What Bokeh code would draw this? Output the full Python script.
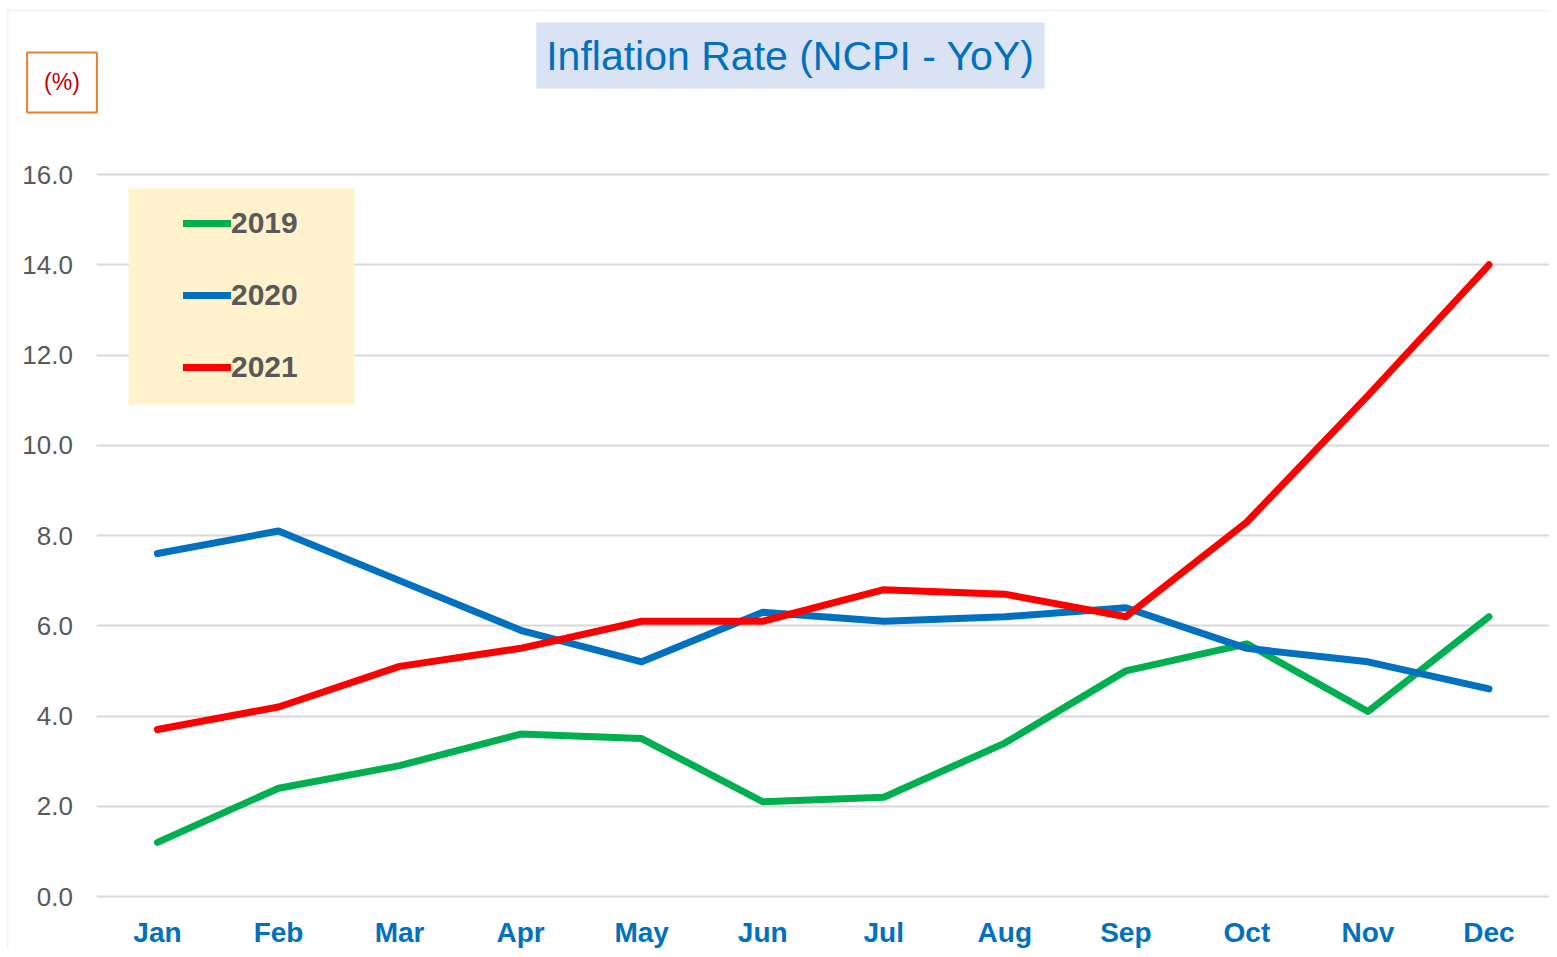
from bokeh.plotting import figure
from bokeh.models import (Range1d, FixedTicker, NumeralTickFormatter, LinearAxis, Grid,
                          Legend, LegendItem, Label, BoxAnnotation)
from bokeh.embed import file_html
from bokeh.resources import INLINE

months = ["Jan", "Feb", "Mar", "Apr", "May", "Jun", "Jul", "Aug", "Sep", "Oct", "Nov", "Dec"]
y2019 = [1.2, 2.4, 2.9, 3.6, 3.5, 2.1, 2.2, 3.4, 5.0, 5.6, 4.1, 6.2]
y2020 = [7.6, 8.1, 7.0, 5.9, 5.2, 6.3, 6.1, 6.2, 6.4, 5.5, 5.2, 4.6]
y2021 = [3.7, 4.2, 5.1, 5.5, 6.1, 6.1, 6.8, 6.7, 6.2, 8.3, 11.1, 14.0]
y_ticks = [0, 2, 4, 6, 8, 10, 12, 14, 16]

x_idx = list(range(len(months)))

p = figure(width=1549, height=949, x_range=Range1d(-1.297, 11.5), y_range=Range1d(-1.1745, 19.856),
           x_axis_location=None, y_axis_location=None,
           output_backend="svg", toolbar_location=None,
           min_border_left=0, min_border_right=0, min_border_top=0, min_border_bottom=0)
p.outline_line_color = None
p.background_fill_color = "white"
p.border_fill_color = "white"
p.center = []

yticker = FixedTicker(ticks=y_ticks)
xticker = FixedTicker(ticks=x_idx)

grid = Grid(dimension=1, ticker=yticker, cross_bounds=(-0.5, 11.5),
            grid_line_color="#d9d9d9", grid_line_width=2)
p.add_layout(grid)

yaxis = LinearAxis(ticker=yticker, formatter=NumeralTickFormatter(format="0.0"),
                   fixed_location=-0.5,
                   axis_line_color=None, major_tick_line_color=None, minor_tick_line_color=None,
                   major_tick_in=0, major_tick_out=0,
                   major_label_text_font="Liberation Sans", major_label_text_font_size="26px",
                   major_label_text_color="#595959", major_label_standoff=24)
p.add_layout(yaxis, "left")

xaxis = LinearAxis(ticker=xticker, fixed_location=0,
                   major_label_overrides={i: m for i, m in zip(x_idx, months)},
                   axis_line_color=None, major_tick_line_color=None, minor_tick_line_color=None,
                   major_tick_in=0, major_tick_out=0,
                   major_label_text_font="Liberation Sans", major_label_text_font_size="28px",
                   major_label_text_font_style="bold", major_label_text_color="#0070c0",
                   major_label_standoff=20)
p.add_layout(xaxis, "below")

# outer chart frame
p.add_layout(BoxAnnotation(left=-1.239, right=12, top=19.634, bottom=-3,
                           fill_alpha=0, line_color="#d9d9d9", line_width=2))

# legend background box
p.add_layout(BoxAnnotation(left=-0.2396, right=1.627, top=15.69, bottom=10.90,
                           fill_color="#fff2cc", fill_alpha=1, line_color=None))

series = [("2019", y2019, "#00b050"), ("2020", y2020, "#0070c0"), ("2021", y2021, "#ff0000")]
items = []
for name, vals, col in series:
    r = p.line(x_idx, vals, line_color=col, line_width=7, line_cap="round", line_join="round")
    items.append(LegendItem(label=name, renderers=[r]))

legend = Legend(items=items, location=(183, 562), padding=0, margin=0,
                background_fill_alpha=0, border_line_color=None,
                glyph_width=48, glyph_height=40, label_height=40, spacing=32,
                label_standoff=0, label_text_font="Liberation Sans",
                label_text_font_size="30px", label_text_font_style="bold",
                label_text_color="#595959")
p.add_layout(legend)

title = Label(x=5.229, y=18.637, text="Inflation Rate (NCPI - YoY)",
              text_align="center", text_baseline="middle",
              text_font="Liberation Sans", text_font_size="41px", text_color="#0070c0",
              background_fill_color="#dae3f3", padding=10)
p.add_layout(title)

unit = Label(x=-0.789, y=18.04, text="(%)", text_align="center", text_baseline="middle",
             text_font="Liberation Sans", text_font_size="23px", text_color="#c00000",
             border_line_color="#ed7d31", border_line_width=2, padding=17)
p.add_layout(unit)

open("out.html", "w").write(file_html(p, INLINE))
